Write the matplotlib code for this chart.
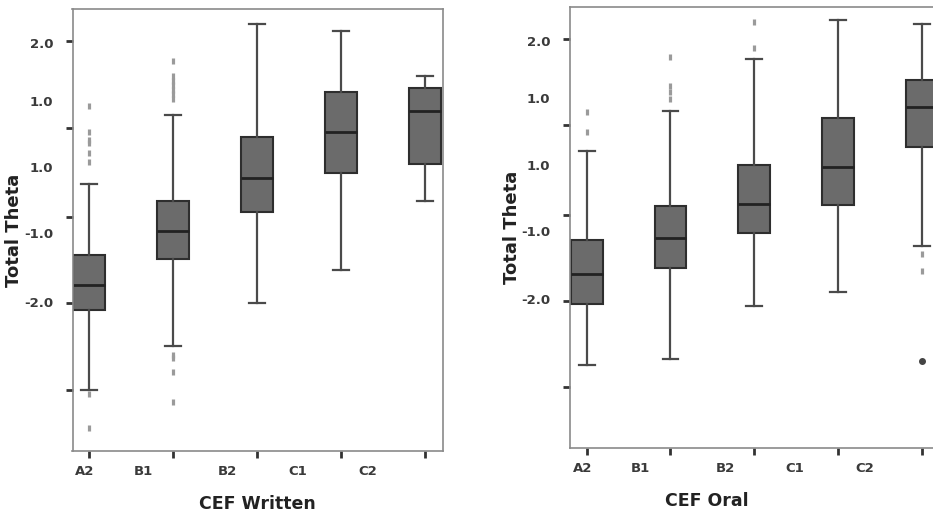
import matplotlib
matplotlib.use("Agg")
import matplotlib.pyplot as plt

# ---------------- data ----------------
categories = ["A2", "B1", "B2", "C1", "C2"]

written_whishi = [-0.18, 0.89, 2.29, 2.18, 1.49]
written_q3     = [-1.27, -0.44, 0.55, 1.25, 1.30]
written_med    = [-1.73, -0.90, -0.08, 0.63, 0.95]
written_q1     = [-2.13, -1.33, -0.61, -0.01, 0.13]
written_whislo = [-3.36, -2.68, -2.02, -1.51, -0.44]
written_fliers = [
    [1.03, 0.63, 0.50, 0.45, 0.30, 0.16, -3.42, -3.95],
    [1.72, 1.49, 1.42, 1.35, 1.28, 1.21, 1.14, -2.82, -2.87, -3.08, -3.54],
    [],
    [],
    [],
]

oral_whishi = [0.29, 0.91, 1.71, 2.32, 2.26]
oral_q3     = [-1.09, -0.55, 0.07, 0.80, 1.39]
oral_med    = [-1.61, -1.05, -0.52, 0.04, 0.98]
oral_q1     = [-2.07, -1.51, -0.98, -0.54, 0.36]
oral_whislo = [-3.01, -2.92, -2.10, -1.88, -1.18]
oral_fliers = [
    [0.90, 0.58],
    [1.74, 1.30, 1.20, 1.09],
    [2.29, 1.89],
    [],
    [-1.30, -1.56],
]
oral_extreme_cat = [4]
oral_extreme_val = [-2.95]

ytick_label_pos = [2.0, 1.11, 0.08, -0.94, -2.0]
ytick_labels = ["2.0", "1.0", "1.0", "-1.0", "-2.0"]
ytick_mark_pos = [2.03, 0.69, -0.69, -2.02, -3.36]
xtick_label_pos = [-0.05, 0.64, 1.65, 2.48, 3.32]

# ---------------- style ----------------
FILL = "#6b6b6b"
EDGE = "#2e2e2e"
WHISK = "#4a4a4a"
FRAME = "#8a8a8a"
TXT = "#3a3a3a"

fig = plt.figure(figsize=(9.33, 5.21), dpi=100)
fig.patch.set_facecolor("white")

ax1 = fig.add_axes([72.5 / 933, 70 / 521, 370.2 / 933, 442 / 521])
ax2 = fig.add_axes([570 / 933, 73 / 521, 369.3 / 933, 441.3 / 521])


def draw(ax, whishi, q3, med, q1, whislo, fliers, xlabel, xlabel_x):
    stats = []
    for i in range(len(categories)):
        stats.append(dict(med=med[i], q1=q1[i], q3=q3[i],
                          whislo=whislo[i], whishi=whishi[i],
                          fliers=fliers[i], label=categories[i]))
    ax.bxp(stats, positions=list(range(len(categories))), widths=0.38,
           patch_artist=True, showfliers=True,
           boxprops=dict(facecolor=FILL, edgecolor=EDGE, linewidth=1.5),
           medianprops=dict(color="#222222", linewidth=2.0),
           whiskerprops=dict(color=WHISK, linewidth=1.6),
           capprops=dict(color=WHISK, linewidth=1.6),
           flierprops=dict(marker="|", markersize=5, markeredgewidth=2.3,
                           markeredgecolor="#9a9a9a", linestyle="none"))
    ax.set_xlim(-0.2, 4.21)
    ax.set_ylim(-4.30, 2.525)
    for s in ax.spines.values():
        s.set_color(FRAME)
        s.set_linewidth(1.2)

    # y axis: labels (no marks) + separate marks
    ax.yaxis.remove_overlapping_locs = False
    ax.set_yticks(ytick_label_pos)
    ax.set_yticklabels(ytick_labels)
    ax.set_yticks(ytick_mark_pos, minor=True)
    ax.tick_params(axis="y", which="major", length=0, pad=14,
                   labelsize=9.5, labelcolor=TXT)
    ax.tick_params(axis="y", which="minor", length=5, width=2,
                   color="#333333", direction="out")
    for t in ax.get_yticklabels():
        t.set_fontweight("bold")

    # x axis
    ax.xaxis.remove_overlapping_locs = False
    ax.set_xticks(xtick_label_pos)
    ax.set_xticklabels(categories)
    ax.set_xticks(list(range(len(categories))), minor=True)
    ax.tick_params(axis="x", which="major", length=0, pad=10,
                   labelsize=9.5, labelcolor=TXT)
    ax.tick_params(axis="x", which="minor", length=5, width=2,
                   color="#333333", direction="out")
    for t in ax.get_xticklabels():
        t.set_fontweight("bold")

    ax.set_ylabel("Total Theta", fontsize=13, fontweight="bold", color="#222222")
    ax.yaxis.set_label_coords(-49 / 370, 0.5)
    ax.set_xlabel(xlabel, fontsize=12.5, fontweight="bold", color="#222222")
    ax.xaxis.set_label_coords(xlabel_x, -44 / 442)


draw(ax1, written_whishi, written_q3, written_med, written_q1, written_whislo,
     written_fliers, "CEF Written", 0.5)
draw(ax2, oral_whishi, oral_q3, oral_med, oral_q1, oral_whislo,
     oral_fliers, "CEF Oral", (706.7 - 570) / 369.3)
ax2.plot(oral_extreme_cat, oral_extreme_val, linestyle="none", marker="o",
         markersize=4, color="#444444")

fig.savefig("out.png", dpi=100, facecolor="white")
